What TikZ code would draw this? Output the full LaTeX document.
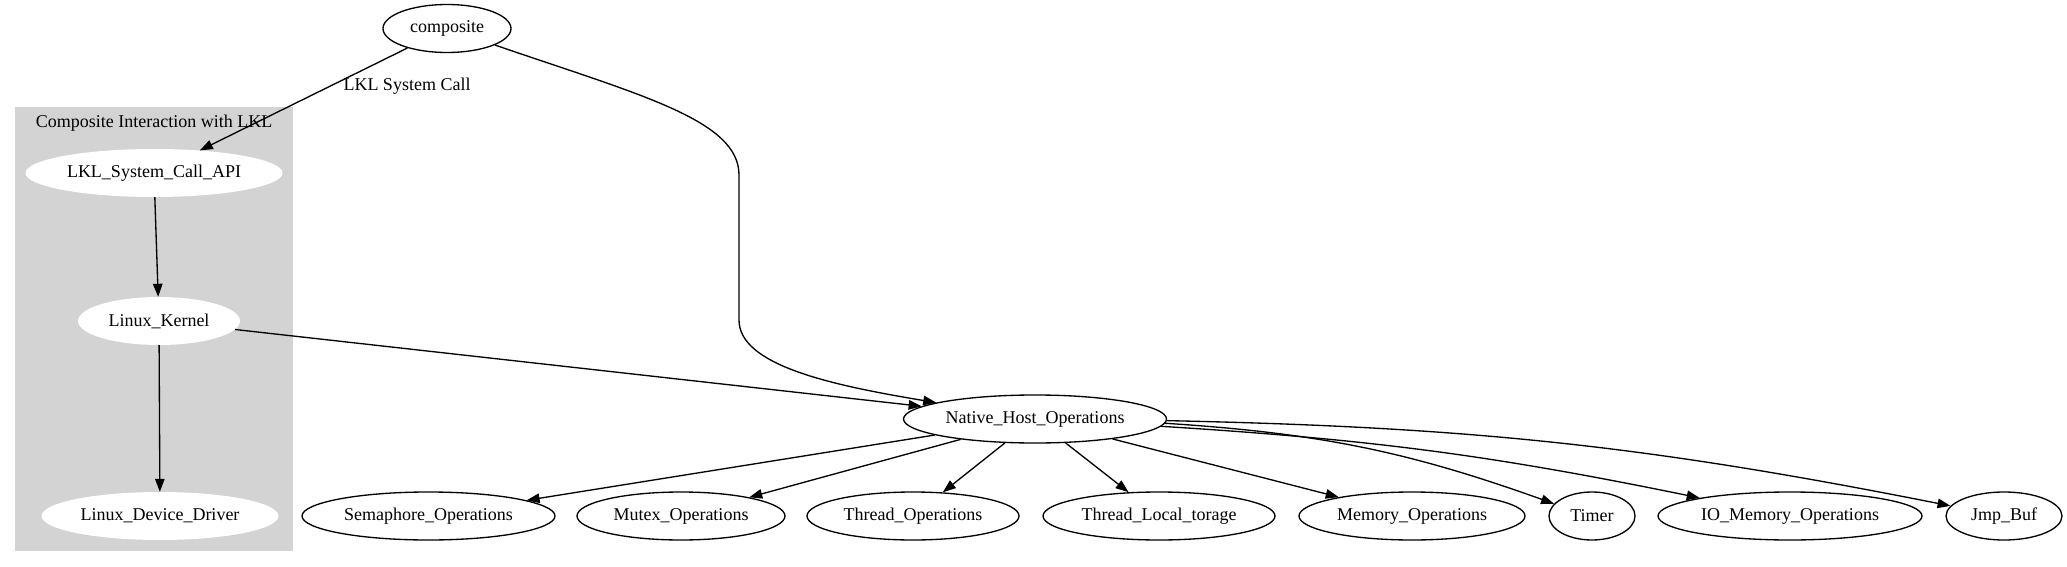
\documentclass[tikz,border=0pt]{standalone}
\usepackage{fontspec}
\setmainfont{Liberation Serif}
\usetikzlibrary{shapes.geometric,arrows.meta}
\definecolor{clustergray}{RGB}{211,211,211}
\begin{document}
\begin{tikzpicture}[x=1pt,y=-1pt,
  every node/.style={font=\fontsize{18}{22}\selectfont},
  gnode/.style={ellipse, draw, line width=1.33pt, inner sep=0pt, minimum height=48pt},
  cnode/.style={ellipse, fill=white, inner sep=0pt, minimum height=48pt},
  conn/.style={line width=1.33pt, -{Triangle[length=13pt,width=9.5pt]}}]
\useasboundingbox (0,0) rectangle (2067,567);
% cluster
\node[fill=clustergray, inner sep=0pt, minimum width=278pt, minimum height=444pt] (cluster) at (154,329) {};
\node (ctitle) at (154,123) {Composite Interaction with LKL};
% nodes
\node[gnode, minimum width=128pt] (comp) at (447,28.5) {composite};
\node[cnode, minimum width=257pt] (api) at (154,173) {LKL\_System\_Call\_API};
\node[cnode, minimum width=162pt] (kern) at (159,321) {Linux\_Kernel};
\node[cnode, minimum width=237pt] (drv) at (160,516) {Linux\_Device\_Driver};
\node[gnode, minimum width=263pt] (nat) at (1035,419) {Native\_Host\_Operations};
\node[gnode, minimum width=253pt] (sem) at (428.5,516) {Semaphore\_Operations};
\node[gnode, minimum width=208pt] (mut) at (681,516) {Mutex\_Operations};
\node[gnode, minimum width=212pt] (thr) at (913,516) {Thread\_Operations};
\node[gnode, minimum width=232pt] (tls) at (1159,516) {Thread\_Local\_torage};
\node[gnode, minimum width=226pt] (mem) at (1412,516) {Memory\_Operations};
\node[gnode, minimum width=86pt] (tim) at (1592,516) {Timer};
\node[gnode, minimum width=264pt] (io) at (1790,516) {IO\_Memory\_Operations};
\node[gnode, minimum width=116pt] (jmp) at (2004,516) {Jmp\_Buf};
% edges
\draw[conn] (comp) -- (api);
\node (lbl) at (407,86) {LKL System Call};
\draw[conn] (api) -- (kern);
\draw[conn] (kern) -- (drv);
\draw[conn] (kern) -- (nat);
\coordinate (v1) at (739,175);
\coordinate (v2) at (739,320);
\draw[conn] (comp) .. controls (640,95) and (739,120) .. (v1) -- (v2) .. controls (739,365) and (830,385) .. (nat);
\draw[conn] (nat) -- (sem);
\draw[conn] (nat) -- (mut);
\draw[conn] (nat) -- (thr);
\draw[conn] (nat) -- (tls);
\draw[conn] (nat) -- (mem);
\draw[conn] (nat) to[bend left=8] (tim);
\draw[conn] (nat) to[bend left=4] (io);
\draw[conn] (nat) to[bend left=5] (jmp);
\end{tikzpicture}
\end{document}
